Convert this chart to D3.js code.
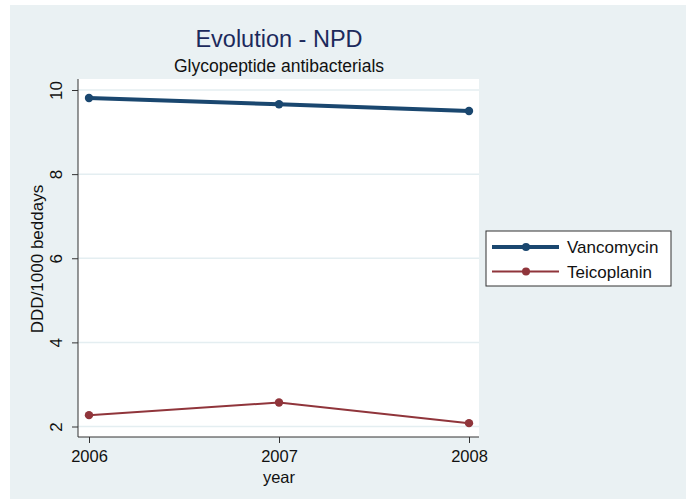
<!DOCTYPE html>
<html><head><meta charset="utf-8">
<script src="https://cdn.jsdelivr.net/npm/d3@7"></script>
<style>body{margin:0;background:#fff}svg{display:block}text{font-family:Arial,"Liberation Sans",sans-serif}</style>
</head><body><svg id="c" width="686" height="499"></svg>
<script>
const years = [2006, 2007, 2008];
const vancomycin = [9.81, 9.66, 9.50];
const teicoplanin = [2.27, 2.57, 2.08];
const yTicks = [2, 4, 6, 8, 10];
const seriesNames = ["Vancomycin", "Teicoplanin"];
const seriesColors = ["#1a476f", "#90353b"];
const seriesWidths = [4, 2];

const svg = d3.select("#c");
svg.append("rect").attr("x",10).attr("y",5).attr("width",676).attr("height",494).attr("fill","#eaf1f3");

const L=78, R=479, T=79, B=437;
svg.append("rect").attr("x",L).attr("y",T).attr("width",R-L).attr("height",B-T).attr("fill","#fff");

const x = d3.scaleLinear().domain([2006,2008]).range([89,469]);
const y = d3.scaleLinear().domain([2,10]).range([426.5,90]);

// gridlines
svg.append("g").selectAll("line").data(yTicks).join("line")
  .attr("x1",L).attr("x2",R).attr("y1",d=>y(d)).attr("y2",d=>y(d))
  .attr("stroke","#e4eef1").attr("stroke-width",1.5);

// axes
const ya = svg.append("g").attr("transform",`translate(${L},0)`)
  .call(d3.axisLeft(y).tickValues(yTicks).tickSize(6).tickFormat(d3.format("d")));
ya.select(".domain").attr("d",`M0,${T}V${B}`).attr("stroke","#333");
ya.selectAll(".tick line").attr("stroke","#333");
ya.selectAll(".tick text").attr("font-size",17).attr("fill","#111")
  .attr("dy",null).attr("x",0).attr("y",-16)
  .attr("transform","rotate(-90)").attr("text-anchor","middle");

const xa = svg.append("g").attr("transform",`translate(0,${B})`)
  .call(d3.axisBottom(x).tickValues(years).tickSize(6).tickFormat(d3.format("d")));
xa.select(".domain").attr("d",`M${L},0H${R}`).attr("stroke","#333");
xa.selectAll(".tick line").attr("stroke","#333");
xa.selectAll(".tick text").attr("font-size",16.5).attr("fill","#111").attr("dy",null).attr("y",25);

// axis titles
svg.append("text").attr("x",279).attr("y",483).attr("text-anchor","middle")
  .attr("font-size",16.5).attr("fill","#111").text("year");
svg.append("text").attr("transform","translate(43,259) rotate(-90)").attr("text-anchor","middle")
  .attr("font-size",17).attr("fill","#111").text("DDD/1000 beddays");

// titles
svg.append("text").attr("x",279).attr("y",47).attr("text-anchor","middle")
  .attr("font-size",23.5).attr("fill","#1c2a5c").text("Evolution - NPD");
svg.append("text").attr("x",279).attr("y",72).attr("text-anchor","middle")
  .attr("font-size",17.5).attr("fill","#111").text("Glycopeptide antibacterials");

// series
const data = [vancomycin, teicoplanin];
const line = d3.line().x((d,i)=>x(years[i])).y(d=>y(d));
data.forEach((s,k)=>{
  svg.append("path").datum(s).attr("d",line).attr("fill","none")
    .attr("stroke",seriesColors[k]).attr("stroke-width",seriesWidths[k]);
  svg.append("g").selectAll("circle").data(s).join("circle")
    .attr("cx",(d,i)=>x(years[i])).attr("cy",d=>y(d)).attr("r",4.2).attr("fill",seriesColors[k]);
});

// legend
const lg = svg.append("g");
lg.append("rect").attr("x",486).attr("y",231).attr("width",185).attr("height",55)
  .attr("fill","#fff").attr("stroke","#333").attr("stroke-width",1);
seriesNames.forEach((n,k)=>{
  const ly = 247 + k*24.5;
  lg.append("line").attr("x1",492).attr("x2",559).attr("y1",ly).attr("y2",ly)
    .attr("stroke",seriesColors[k]).attr("stroke-width",seriesWidths[k]);
  lg.append("circle").attr("cx",526).attr("cy",ly).attr("r",4).attr("fill",seriesColors[k]);
  lg.append("text").attr("x",567).attr("y",ly+6).attr("font-size",17).attr("fill","#111").text(n);
});
</script></body></html>
